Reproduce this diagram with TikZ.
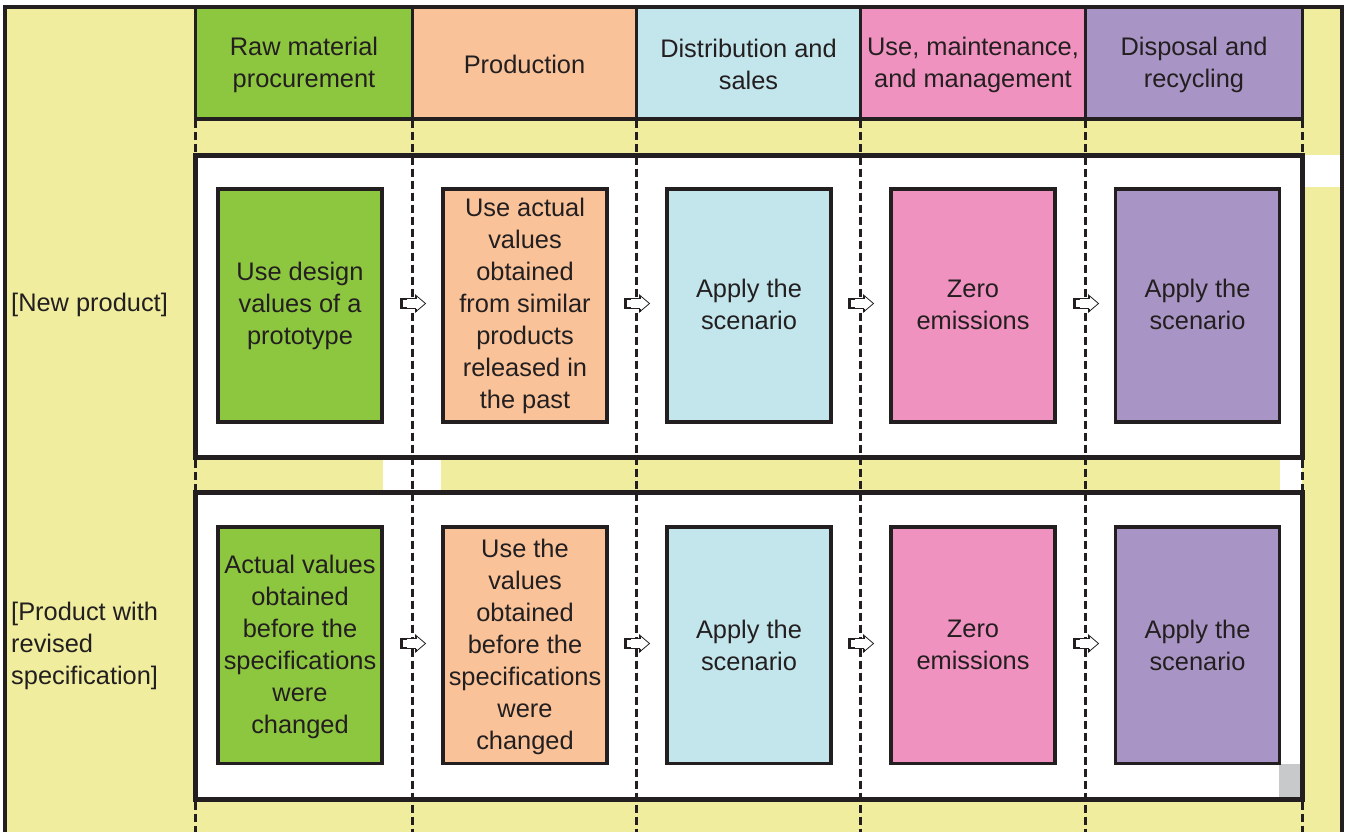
\documentclass[tikz,border=0pt]{standalone}
\usepackage{fontspec}
\setmainfont{Liberation Sans}
\definecolor{bgyel}{HTML}{F0EE9E}
\definecolor{cgreen}{HTML}{8DC63F}
\definecolor{corange}{HTML}{F9C298}
\definecolor{ccyan}{HTML}{C2E6EC}
\definecolor{cpink}{HTML}{F092BF}
\definecolor{cpurple}{HTML}{A995C5}
\definecolor{cgray}{HTML}{C8C9CA}
\definecolor{ink}{HTML}{231F20}
\tikzset{
  txt/.style={font=\fontsize{25.4}{32}\selectfont, text=ink, align=center, inner sep=0pt},
  headcell/.style={draw=ink, line width=3.3pt, outer sep=0pt},
  rowbox/.style={draw=ink, fill=white, line width=5pt, outer sep=0pt},
  innerbox/.style={draw=ink, line width=3.3pt, outer sep=0pt},
  dashline/.style={draw=ink, line width=2.6pt, dash pattern=on 8pt off 4pt},
  frame/.style={draw=ink, line width=4.3pt},
  blockarrow/.pic={
    \fill[white] (-12,-5) -- (3,-5) -- (3,-8.5) -- (13,0) -- (3,8.5) -- (3,5) -- (-12,5) -- cycle;
    \draw[ink, line width=0.8pt, line join=miter] (-12,-5) -- (3,-5) -- (3,-8.5) -- (13,0) -- (3,8.5) -- (3,5) -- (-12,5) -- cycle;
    \draw[ink, line width=2.6pt] (-11,-5) -- (-11,5);
    \draw[ink, line width=2pt] (-12,-4.6) -- (-6,-4.6) (-12,4.6) -- (-6,4.6);
    \draw[ink, line width=2pt] (3,-5) -- (3,-8) (3,5) -- (3,8);
  }
}
\begin{document}
\begin{tikzpicture}[x=1pt,y=-1pt]
\useasboundingbox (0,0) rectangle (1349,832);
% background
\fill[bgyel] (5,7) rectangle (1342,832);
% white patches
\fill[white] (383,457) rectangle (441,492);
\fill[white] (1280,457) rectangle (1302,492);
\fill[white] (1302,155) rectangle (1340,187);
% header cells
\node[headcell, fill=cgreen, minimum width=217pt, minimum height=112pt, anchor=north west] (h1) at (195.5,7) {};
\node[headcell, fill=corange, minimum width=224pt, minimum height=112pt, anchor=north west] (h2) at (412.5,7) {};
\node[headcell, fill=ccyan, minimum width=224pt, minimum height=112pt, anchor=north west] (h3) at (636.5,7) {};
\node[headcell, fill=cpink, minimum width=225pt, minimum height=112pt, anchor=north west] (h4) at (860.5,7) {};
\node[headcell, fill=cpurple, minimum width=217pt, minimum height=112pt, anchor=north west] (h5) at (1085.5,7) {};
\node[txt] at ([yshift=-2pt]h1.center) {Raw material\\procurement};
\node[txt] at ([yshift=-1pt]h2.center) {Production};
\node[txt] at ([yshift=-1pt]h3.center) {Distribution and\\sales};
\node[txt] at ([yshift=-2pt]h4.center) {Use, maintenance,\\and management};
\node[txt] at ([yshift=-2pt]h5.center) {Disposal and\\recycling};
% row boxes
\node[rowbox, minimum width=1107pt, minimum height=302pt, anchor=north west] (r1) at (195.5,155.5) {};
\node[rowbox, minimum width=1107pt, minimum height=306.5pt, anchor=north west] (r2) at (195.5,492.5) {};
% dashed column lines
\foreach \xx in {412.5,636.5,860.5,1085.5}{
  \draw[dashline] (\xx,120.5) -- (\xx,832);
}
\foreach \xx in {195.5,1302.5}{
  \draw[dashline] (\xx,120.5) -- (\xx,153);
  \draw[dashline] (\xx,460) -- (\xx,490);
  \draw[dashline] (\xx,801.5) -- (\xx,832);
}
% gray square
\fill[cgray] (1279,764) rectangle (1300,797);
% inner boxes row 1
\node[innerbox, fill=cgreen, minimum width=164pt, minimum height=233pt] (a1) at (300,305.5) {};
\node[innerbox, fill=corange, minimum width=164pt, minimum height=233pt] (a2) at (525,305.5) {};
\node[innerbox, fill=ccyan, minimum width=164pt, minimum height=233pt] (a3) at (749,305.5) {};
\node[innerbox, fill=cpink, minimum width=164pt, minimum height=233pt] (a4) at (973,305.5) {};
\node[innerbox, fill=cpurple, minimum width=164pt, minimum height=233pt] (a5) at (1197.5,305.5) {};
\node[txt] at (a1.center) {Use design\\values of a\\prototype};
\node[txt] at (a2.center) {Use actual\\values\\obtained\\from similar\\products\\released in\\the past};
\node[txt] at ([yshift=1pt]a3.center) {Apply the\\scenario};
\node[txt] at ([yshift=1pt]a4.center) {Zero\\emissions};
\node[txt] at ([yshift=1pt]a5.center) {Apply the\\scenario};
% inner boxes row 2
\node[innerbox, fill=cgreen, minimum width=164pt, minimum height=236.5pt] (b1) at (300,645.2) {};
\node[innerbox, fill=corange, minimum width=164pt, minimum height=236.5pt] (b2) at (525,645.2) {};
\node[innerbox, fill=ccyan, minimum width=164pt, minimum height=236.5pt] (b3) at (749,645.2) {};
\node[innerbox, fill=cpink, minimum width=164pt, minimum height=236.5pt] (b4) at (973,645.2) {};
\node[innerbox, fill=cpurple, minimum width=164pt, minimum height=236.5pt] (b5) at (1197.5,645.2) {};
\node[txt] at ([yshift=-1.5pt]b1.center) {Actual values\\obtained\\before the\\specifications\\were\\changed};
\node[txt] at ([yshift=-1.5pt]b2.center) {Use the\\values\\obtained\\before the\\specifications\\were\\changed};
\node[txt] at (b3.center) {Apply the\\scenario};
\node[txt] at (b4.center) {Zero\\emissions};
\node[txt] at (b5.center) {Apply the\\scenario};
% row labels
\node[txt, align=left, anchor=west] (l1) at (11,305) {[New product]};
\node[txt, align=left, anchor=west] (l2) at (11,646) {[Product with\\revised\\specification]};
% arrows between stages
\foreach \xx in {412.5,636.5,860.5,1085.5}{
  \pic at (\xx,303.5) {blockarrow};
  \pic at (\xx,643.5) {blockarrow};
}
% outer frame
\draw[frame] (5.3,832) -- (5.3,7.2) -- (1342.3,7.2) -- (1342.3,832);
\end{tikzpicture}
\end{document}
